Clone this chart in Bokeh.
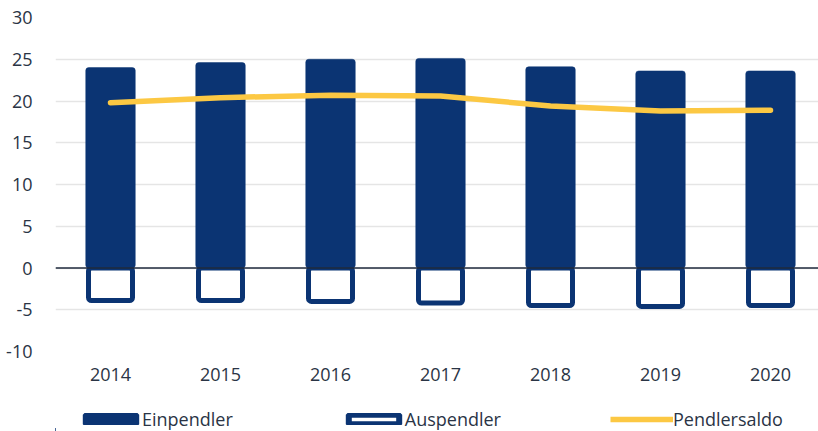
from bokeh.plotting import figure
from bokeh.layouts import column
from bokeh.models import (ColumnDataSource, Range1d, FixedTicker, Span, Legend, LegendItem,
                          BoxAnnotation)
from bokeh.embed import file_html
from bokeh.resources import INLINE

# ---- data ----
years = [2014, 2015, 2016, 2017, 2018, 2019, 2020]
year_labels = ["2014", "2015", "2016", "2017", "2018", "2019", "2020"]
einpendler = [24.0, 24.6, 25.0, 25.1, 24.1, 23.6, 23.6]
auspendler = [4.2, 4.2, 4.3, 4.5, 4.8, 4.9, 4.8]
pendlersaldo = [19.8, 20.4, 20.7, 20.6, 19.4, 18.8, 18.9]
y_ticks = [-10, -5, 0, 5, 10, 15, 20, 25, 30]
y_tick_labels = ["-10", "-5", "0", "5", "10", "15", "20", "25", "30"]
series_names = ["Einpendler", "Auspendler", "Pendlersaldo"]

# ---- styles ----
NAVY = "#0b3473"
YELLOW = "#fcc843"
TEXT = "#2a3445"
GRID = "#e5e5e5"
FONT = "Open Sans"
AUS_LINE_W = 5
SAL_LINE_W = 5.5
PX_PER_UNIT = 334.0 / 40.0
half_stroke = (AUS_LINE_W / 2.0) / PX_PER_UNIT

p = figure(width=818, height=400, output_backend="svg", toolbar_location=None,
           x_range=Range1d(years[0] - 0.5, years[0] - 0.5 + 763 / 110.0),
           y_range=Range1d(y_ticks[0], y_ticks[-1]),
           min_border_left=55, min_border_right=0, min_border_top=17,
           min_border_bottom=49)
p.outline_line_color = None
p.background_fill_color = "white"
p.border_fill_color = "white"

aus_src = ColumnDataSource(dict(x=years, top=[0.0] * len(years),
                                bottom=[-v + half_stroke for v in auspendler]))
ein_src = ColumnDataSource(dict(x=years, top=einpendler))
sal_src = ColumnDataSource(dict(x=years, y=pendlersaldo))

p.vbar(x="x", top="top", bottom="bottom", width=0.40, source=aus_src,
       border_radius=3, fill_color="white", line_color=NAVY, line_width=AUS_LINE_W)
p.vbar(x="x", top="top", bottom=0, width=0.45, source=ein_src,
       border_radius=3, fill_color=NAVY, line_color=NAVY, line_width=0.5)

zero = Span(location=0, dimension="width", line_color="#1f2a3c", line_width=1.5)
p.add_layout(zero)

p.line(x="x", y="y", source=sal_src, line_color=YELLOW, line_width=SAL_LINE_W,
       line_cap="round", line_join="round")

# axes
p.xaxis.ticker = FixedTicker(ticks=years)
p.xaxis.major_label_overrides = {y: l for y, l in zip(years, year_labels)}
p.yaxis.ticker = FixedTicker(ticks=y_ticks)
p.yaxis.major_label_overrides = {t: l for t, l in zip(y_ticks, y_tick_labels)}
for ax in (p.xaxis, p.yaxis):
    ax.axis_line_color = None
    ax.major_tick_line_color = None
    ax.minor_tick_line_color = None
    ax.major_label_text_font = FONT
    ax.major_label_text_font_size = "18px"
    ax.major_label_text_color = TEXT
p.xaxis.major_label_standoff = 10
p.yaxis.major_label_standoff = 17

p.xgrid.grid_line_color = None
p.ygrid.grid_line_color = GRID
p.ygrid.grid_line_width = 1.5

# ---- legend strip (its ranges keep the series glyphs out of view) ----
lg = figure(width=818, height=31, output_backend="svg", toolbar_location=None,
            x_range=Range1d(years[-1] + 2, years[-1] + 3),
            y_range=Range1d(y_ticks[-1] + 50, y_ticks[-1] + 51),
            min_border_left=0, min_border_right=0, min_border_top=0,
            min_border_bottom=0)
lg.axis.visible = False
lg.grid.visible = False
lg.outline_line_color = None
lg.border_fill_color = "white"

l_ein = lg.vbar(x="x", top="top", width=0.45, source=ein_src, level="image",
                fill_color=NAVY, line_color=NAVY, line_width=6)
l_aus = lg.vbar(x="x", top="top", bottom="bottom", width=0.4, source=aus_src,
                level="image", fill_color="white", line_color=NAVY, line_width=6)
l_sal = lg.line(x="x", y="y", source=sal_src, level="image", line_color=YELLOW,
                line_width=SAL_LINE_W, line_cap="butt")

# white cover over the strip's plotting area (legend is drawn above it)
lg.add_layout(BoxAnnotation(fill_color="white", fill_alpha=1.0, line_color=None,
                            level="underlay"))

legend = Legend(items=[LegendItem(label=series_names[0], renderers=[l_ein]),
                       LegendItem(label=series_names[1], renderers=[l_aus]),
                       LegendItem(label=series_names[2], renderers=[l_sal])],
                location=(24, 0), orientation="horizontal",
                glyph_width=63, glyph_height=12, label_height=13,
                label_standoff=0, spacing=109, padding=0, margin=0,
                border_line_color=None, background_fill_alpha=0,
                label_text_font=FONT, label_text_font_size="18px",
                label_text_color=TEXT)
lg.add_layout(legend, "center")

open("out.html", "w").write(file_html(column(p, lg, spacing=0), INLINE))
